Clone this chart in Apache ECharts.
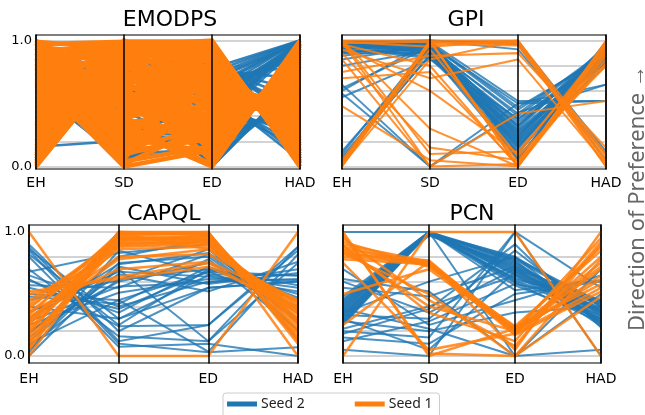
<!DOCTYPE html>
<html><head><meta charset="utf-8">
<script src="https://cdn.jsdelivr.net/npm/echarts@6/dist/echarts.min.js"></script>
<style>html,body{margin:0;padding:0;background:#fff}#c{width:645px;height:415px}</style>
</head><body><div id="c"></div>
<script>
const dims = ['EH', 'SD', 'ED', 'HAD'];
const titles = ['EMODPS', 'GPI', 'CAPQL', 'PCN'];
const seriesNames = ['Seed 2', 'Seed 1'];
const sideLabel = 'Direction of Preference \u2192';

// EMODPS
const emodpsSeed2 = [
  [0.00,0.84,0.82,0.30],[0.02,0.88,0.75,1.00],[0.64,0.03,0.40,1.00],[0.60,0.05,0.36,0.99],
  [0.156,0.204,0.62,1.00],[0.10,0.86,0.10,0.60],[0.70,0.06,0.60,0.05],[0.75,0.08,0.12,0.60],
  [0.80,0.10,0.14,0.58],[0.90,0.50,0.85,0.35],[0.30,0.90,0.70,0.99],[0.50,0.60,0.20,0.50],
  [0.95,0.20,0.80,0.45],[0.40,0.95,0.48,1.00],[0.85,0.30,0.15,0.55],[0.20,0.92,0.00,0.70],
  [0.65,0.70,0.55,0.98],[0.88,0.40,0.78,0.60],[0.98,0.96,0.05,0.62],[0.45,0.98,0.42,0.99],
  [0.35,0.75,0.32,0.97],[0.55,0.45,0.66,0.85],[0.72,0.25,0.58,0.90],[0.92,0.65,0.25,0.45],
  [0.82,0.15,0.50,0.15],
  [0.91,0.55,0.78,1.00],[0.86,0.62,0.72,1.00],[0.77,0.70,0.68,0.99],[0.69,0.80,0.64,1.00],
  [0.93,0.45,0.58,1.00],[0.81,0.52,0.52,0.99],[0.73,0.66,0.46,1.00],[0.96,0.35,0.38,0.98],
  [0.66,0.88,0.34,1.00],[0.84,0.74,0.80,0.52],[0.97,0.42,0.83,0.40],[0.79,0.58,0.76,0.70],
  [0.71,0.82,0.70,0.80],[0.89,0.68,0.62,0.90],[0.94,0.60,0.50,0.95],
  [0.76,0.36,0.05,0.65],[0.83,0.44,0.12,0.58],[0.68,0.50,0.18,0.52],[0.87,0.26,0.25,0.46],
  [0.74,0.64,0.32,0.40],[0.92,0.32,0.40,0.32],[0.67,0.78,0.48,0.25],[0.99,0.48,0.55,0.16],
  [0.78,0.54,0.62,0.08],[0.95,0.72,0.00,0.72]
];
const emodpsSeed1 = [
  [0.00,0.86,0.30,0.70],[0.02,0.94,0.98,0.04],[0.04,1.00,0.62,0.40],[0.06,0.90,0.10,0.90],
  [0.08,0.98,0.84,0.20],[0.10,0.80,0.46,0.56],[0.12,0.96,1.00,0.00],[0.14,0.76,0.20,0.82],
  [0.16,0.88,0.72,0.40],[0.18,0.70,0.04,0.98],[0.20,0.92,0.90,0.10],[0.22,0.66,0.36,0.62],
  [0.24,0.84,0.56,0.36],[0.26,0.60,0.14,0.86],[0.28,0.78,0.78,0.24],[0.30,0.54,0.26,0.74],
  [0.32,0.99,0.94,0.08],[0.34,0.50,0.08,0.94],[0.36,0.72,0.66,0.46],[0.38,0.44,0.40,0.58],
  [0.40,0.82,0.88,0.14],[0.42,0.38,0.18,0.80],[0.44,0.64,0.52,0.42],[0.46,0.32,0.02,1.00],
  [0.48,0.97,0.76,0.22],[0.50,0.26,0.32,0.66],[0.52,0.58,0.96,0.02],[0.54,0.22,0.12,0.88],
  [0.56,0.74,0.70,0.32],[0.58,0.16,0.44,0.64],[0.60,0.48,0.82,0.18],[0.62,0.10,0.24,0.76],
  [0.64,0.68,0.58,0.42],[0.66,0.04,0.16,0.84],[0.68,0.42,0.92,0.06],[0.70,0.00,0.13,0.92],
  [0.72,0.62,0.06,0.96],[0.74,0.08,0.50,0.44],[0.76,0.36,0.80,0.16],[0.78,0.02,0.34,0.64],
  [0.80,0.56,0.64,0.48],[0.82,0.12,0.22,0.72],[0.84,0.30,0.00,0.97],[0.86,0.06,0.86,0.12],
  [0.88,0.46,0.28,0.68],[0.90,0.14,0.74,0.26],[0.92,0.95,0.54,0.44],[0.94,0.20,0.38,0.54],
  [0.96,0.52,0.68,0.34],[0.98,0.18,0.48,0.52],[1.00,0.24,0.60,0.50],
  [0.97,0.99,0.99,0.03],[0.99,0.93,0.95,0.02],[0.90,0.98,0.97,0.06],[0.95,0.88,0.87,0.16],
  [0.85,0.97,0.93,0.06],[0.80,0.92,0.83,0.22],[0.93,0.80,0.91,0.08],[0.75,0.99,0.99,0.00],
  [0.88,0.85,0.79,0.27],[0.70,0.90,0.89,0.12],[0.82,0.78,0.71,0.33],[0.65,0.95,0.97,0.04],
  [0.60,0.85,0.63,0.42],[0.78,0.70,0.85,0.18],[0.55,0.90,0.93,0.12],[0.45,0.88,0.75,0.28],
  [0.99,0.66,0.87,0.10],[0.91,0.60,0.77,0.25],[0.86,0.92,0.42,0.60],[0.73,0.34,0.30,0.78],
  [0.83,0.45,0.55,0.47],[0.71,0.35,0.42,0.58],[0.67,0.55,0.30,0.70],[0.89,0.65,0.49,0.50],
  [0.79,0.28,0.62,0.40],[0.95,0.50,0.45,0.55],[0.69,0.40,0.70,0.30],[0.87,0.60,0.36,0.66],
  [0.77,0.33,0.25,0.75],[0.93,0.70,0.62,0.36],[0.81,0.22,0.40,0.62],[0.97,0.44,0.78,0.20],
  [0.68,0.15,0.30,0.70],[0.74,0.58,0.20,0.80],[0.85,0.38,0.57,0.45],[0.63,0.76,0.35,0.65],
  [0.57,0.52,0.46,0.56],[0.53,0.40,0.64,0.38]
];

// GPI
const gpiSeed2 = [
  [0.98,0.97,0.45,0.90],[0.97,0.95,0.40,0.92],[0.95,0.93,0.35,0.88],[0.99,0.98,0.30,0.95],
  [0.92,0.90,0.25,0.85],[0.85,0.96,0.20,0.97],[0.80,0.92,0.15,0.93],[0.05,0.99,0.10,0.99],
  [0.10,0.97,0.12,0.90],[0.08,0.88,0.18,0.87],[0.02,0.95,0.28,0.82],[0.60,0.99,0.22,0.96],
  [0.55,0.85,0.38,0.86],[0.58,0.00,0.43,0.65],[0.99,1.00,0.97,0.05],[0.98,1.00,0.93,0.10],
  [0.93,0.99,0.52,0.52],[0.90,0.96,0.50,0.65],[0.03,0.98,0.05,0.98],[0.12,0.92,0.08,0.84],
  [0.99,0.90,0.33,0.91],[0.96,0.87,0.27,0.89],[0.94,0.94,0.14,0.94],[0.99,0.99,0.99,0.12],
  [0.62,0.95,0.17,0.80],[0.97,0.91,0.23,0.97],[0.06,0.89,0.32,0.92],[0.65,0.00,0.50,0.52],
  [0.97,0.94,0.42,0.93],[0.96,0.92,0.37,0.90],[0.99,0.96,0.32,0.96],[0.98,0.89,0.29,0.87],
  [0.95,0.97,0.24,0.95],[0.91,0.93,0.19,0.91],[0.88,0.95,0.16,0.98],[0.99,0.91,0.11,0.89],
  [0.94,0.86,0.21,0.86],[0.97,0.98,0.47,0.88],[0.90,0.90,0.06,0.96],[0.96,0.96,0.26,0.83]
];
const gpiSeed1 = [
  [1.00,1.00,0.00,0.97],[0.99,0.00,0.02,0.92],[0.00,1.00,0.00,1.00],[0.02,1.00,1.00,0.00],
  [0.05,0.98,0.99,0.05],[0.97,0.80,0.00,0.88],[0.93,0.70,0.85,0.02],[0.90,0.15,0.05,0.82],
  [0.48,0.05,0.00,0.95],[1.00,0.30,0.00,0.99],[0.99,0.95,1.00,0.10],[0.00,0.99,0.03,0.85],
  [0.85,0.00,0.42,0.52],[0.75,0.88,0.90,0.15],[0.02,0.93,0.08,0.80],[0.98,0.99,0.97,0.00],
  [0.96,0.60,0.10,0.97],[1.00,0.10,0.12,0.93],[0.01,0.85,1.00,0.03],[0.70,0.75,0.01,0.90],
  [0.03,0.97,0.96,0.08]
];

// CAPQL
const capqlSeed2 = [
  [0.90,0.20,0.55,0.60],[0.86,0.30,0.65,0.55],[0.82,0.25,0.70,0.50],[0.88,0.12,0.25,0.85],
  [0.68,0.83,0.90,0.20],[0.65,0.40,0.60,0.62],[0.61,0.35,0.72,0.45],[0.57,0.55,0.82,0.30],
  [0.50,0.45,0.68,0.65],[0.45,0.61,0.86,0.27],[0.35,0.68,0.64,0.52],[0.30,0.74,0.83,0.37],
  [0.28,0.56,0.59,0.70],[0.25,0.51,0.62,0.61],[0.20,0.60,0.75,0.47],[0.18,0.80,0.94,0.13],
  [0.15,0.66,0.52,0.76],[0.12,0.70,0.12,0.88],[0.10,0.45,0.035,0.82],[0.08,0.62,0.70,0.57],
  [0.05,0.75,0.80,0.29],[0.03,0.85,0.66,0.65],[0.00,0.72,0.58,0.67],[0.62,0.24,0.25,0.88],
  [0.70,0.16,0.12,0.75],[0.85,0.10,0.03,0.07],[0.80,0.075,0.10,0.00],[0.40,0.30,0.55,0.60],
  [0.55,0.38,0.68,0.40],[0.48,0.42,0.78,0.21]
];
const capqlSeed1 = [
  [1.00,0.00,0.00,1.00],[0.00,1.00,1.00,0.00],[0.52,0.62,0.72,0.38],[0.50,0.64,0.75,0.35],
  [0.45,0.90,0.93,0.30],[0.42,0.95,0.97,0.25],[0.40,0.88,0.90,0.35],[0.38,0.97,0.99,0.20],
  [0.35,0.92,0.95,0.28],[0.33,0.99,0.98,0.15],[0.30,0.86,0.88,0.40],[0.28,0.94,0.96,0.22],
  [0.25,0.98,1.00,0.12],[0.22,0.91,0.92,0.33],[0.20,0.96,0.94,0.18],[0.18,1.00,0.99,0.10],
  [0.15,0.89,0.91,0.37],[0.12,0.93,0.97,0.26],[0.10,0.99,0.86,0.42],[0.07,0.95,0.93,0.30],
  [0.05,1.00,0.98,0.14],[0.31,0.80,0.82,0.45],[0.27,0.78,0.86,0.38],[0.36,0.70,0.76,0.44]
];

// PCN
const pcnSeed2 = [
  [0.25,1.00,0.75,0.35],[0.28,1.00,0.70,0.30],[0.30,0.99,0.78,0.40],[0.32,1.00,0.65,0.28],
  [0.34,0.98,0.72,0.42],[0.36,1.00,0.60,0.33],[0.38,0.99,0.80,0.25],[0.40,1.00,0.68,0.38],
  [0.42,1.00,0.62,0.44],[0.44,0.97,0.74,0.36],[0.46,1.00,0.57,0.30],[1.00,1.00,0.76,0.27],
  [0.60,0.35,0.70,0.45],[0.05,0.00,1.00,0.00],[0.15,0.10,0.50,0.60],[0.20,0.15,1.00,0.55],
  [0.28,0.20,0.35,0.40],[0.33,0.30,0.85,0.32],[0.38,0.22,0.00,0.70],[0.22,0.40,0.65,0.37],
  [0.55,0.48,0.72,0.29],[0.62,0.52,0.00,0.50],[0.12,0.28,0.58,0.45],[0.18,0.38,0.90,0.23],
  [0.70,0.25,0.45,0.65],[0.30,0.05,0.68,0.34],[0.48,1.00,0.00,0.05],[0.35,0.60,0.80,0.40],
  [0.26,1.00,0.53,0.61],
  [0.27,1.00,0.77,0.26],[0.29,0.99,0.73,0.31],[0.31,1.00,0.69,0.35],[0.33,1.00,0.66,0.39],
  [0.35,0.98,0.63,0.42],[0.37,1.00,0.59,0.27],[0.39,1.00,0.79,0.43],[0.41,0.99,0.71,0.24],
  [0.43,1.00,0.67,0.29],[0.45,1.00,0.61,0.37]
];
const pcnSeed1 = [
  [0.90,0.76,0.20,0.95],[0.88,0.74,0.22,0.88],[0.86,0.75,0.18,0.80],[0.84,0.73,0.21,0.72],
  [0.82,0.77,0.19,0.65],[0.80,0.75,0.23,0.58],[0.78,0.74,0.17,0.52],[0.92,0.72,0.24,0.85],
  [1.00,0.00,0.22,0.75],[0.00,1.00,1.00,0.00],[0.50,0.70,0.20,0.62],[0.25,0.76,0.05,1.00],
  [0.86,0.40,0.20,0.70],[0.95,0.45,0.08,0.90],[0.75,0.05,0.18,0.55],[0.98,0.02,0.00,0.48],
  [0.83,0.50,0.00,0.78],[0.89,0.35,0.12,0.92]
];

const seedData = [
  [emodpsSeed2, emodpsSeed1], [gpiSeed2, gpiSeed1], [capqlSeed2, capqlSeed1], [pcnSeed2, pcnSeed1]
];

// layout (pixels) per panel
const layout = [
  {left: 36, top: 35, width: 264, height: 134, min: -0.02, max: 1.044, ylab: true, tx: 170, ty: 20, gap: 7, w: [2.5, 4.5], op: [0.9, 1]},
  {left: 342, top: 35, width: 264, height: 134, min: -0.02, max: 1.044, ylab: false, tx: 466, ty: 20, gap: 7, w: [2, 2], op: [0.8, 0.85]},
  {left: 29, top: 225, width: 269, height: 138, min: -0.056, max: 1.056, ylab: true, tx: 164, ty: 214, gap: 9, w: [2, 2.5], op: [0.8, 0.85]},
  {left: 343, top: 225, width: 258, height: 138, min: -0.056, max: 1.056, ylab: false, tx: 472, ty: 214, gap: 9, w: [2, 2.5], op: [0.8, 0.85]}
];
const colors = ['#1f77b4', '#ff7f0e'];

const hiddenLabel = {show: false, formatter: () => '', color: 'rgba(0,0,0,0)'};
const option = {
  animation: false,
  backgroundColor: '#fff',
  grid: layout.map(p => ({left: p.left, top: p.top, width: p.width, height: p.height, show: true,
    borderColor: '#000', borderWidth: 1.2, backgroundColor: 'transparent', containLabel: false})),
  xAxis: layout.map((p, i) => ({gridIndex: i, type: 'value', min: 0, max: 3, show: false})),
  yAxis: layout.map((p, i) => ({gridIndex: i, type: 'value', min: p.min, max: p.max, splitNumber: 5,
    axisLine: {show: false}, axisTick: {show: false},
    axisLabel: {show: p.ylab, showMinLabel: false, showMaxLabel: false, margin: 4, fontSize: 13, color: '#000',
      fontFamily: 'DejaVu Sans',
      formatter: v => Math.abs(v) < 1e-9 ? '0.0' : (Math.abs(v - 1) < 1e-9 ? '1.0' : '')},
    splitLine: {show: true, showMinLine: false, showMaxLine: false, lineStyle: {color: '#c4c4c4', width: 1.5}}})),
  parallel: layout.map(p => ({left: p.left, top: p.top, width: p.width, height: p.height, layout: 'horizontal',
    parallelAxisDefault: {axisLabel: hiddenLabel, axisTick: {show: false}}})),
  parallelAxis: layout.flatMap((p, pi) => dims.map((d, di) => ({
    dim: di, parallelIndex: pi, name: d, nameLocation: 'start', nameGap: p.gap, type: 'value', min: p.min, max: p.max,
    axisLine: {lineStyle: {color: '#000', width: 1.5}}, axisTick: {show: false}, axisLabel: hiddenLabel,
    splitLine: {show: false},
    nameTextStyle: {color: '#000', fontSize: 14, fontFamily: 'DejaVu Sans', verticalAlign: 'top'}
  }))),
  series: layout.flatMap((p, pi) => seriesNames.map((n, si) => ({
    type: 'parallel', name: n, parallelIndex: pi, data: seedData[pi][si], silent: true,
    color: colors[si], z: 2 + si,
    lineStyle: {color: colors[si], width: p.w[si], opacity: p.op[si]},
    emphasis: {disabled: true}, inactiveOpacity: p.op[si], activeOpacity: p.op[si], progressive: 0
  }))),
  legend: {
    data: seriesNames, left: 223, top: 393, icon: 'rect', itemWidth: 28, itemHeight: 3, itemGap: 50,
    padding: [4, 7, 8, 4], borderColor: '#cccccc', borderWidth: 1, borderRadius: 3, backgroundColor: '#fff',
    textStyle: {fontFamily: 'Noto Sans', fontSize: 14, color: '#222'}
  },
  graphic: [
    ...titles.map((t, i) => ({type: 'text', x: layout[i].tx, y: layout[i].ty, silent: true,
      style: {text: t, align: 'center', verticalAlign: 'middle', font: '22px "DejaVu Sans"', fill: '#000'}})),
    {type: 'text', x: 638, y: 198, rotation: Math.PI / 2, silent: true,
      style: {text: sideLabel, align: 'center', verticalAlign: 'middle', font: '22px "Noto Sans"', fill: '#666'}}
  ]
};
const chart = echarts.init(document.getElementById('c'), null, {renderer: 'canvas'});
chart.setOption(option);
</script></body></html>
